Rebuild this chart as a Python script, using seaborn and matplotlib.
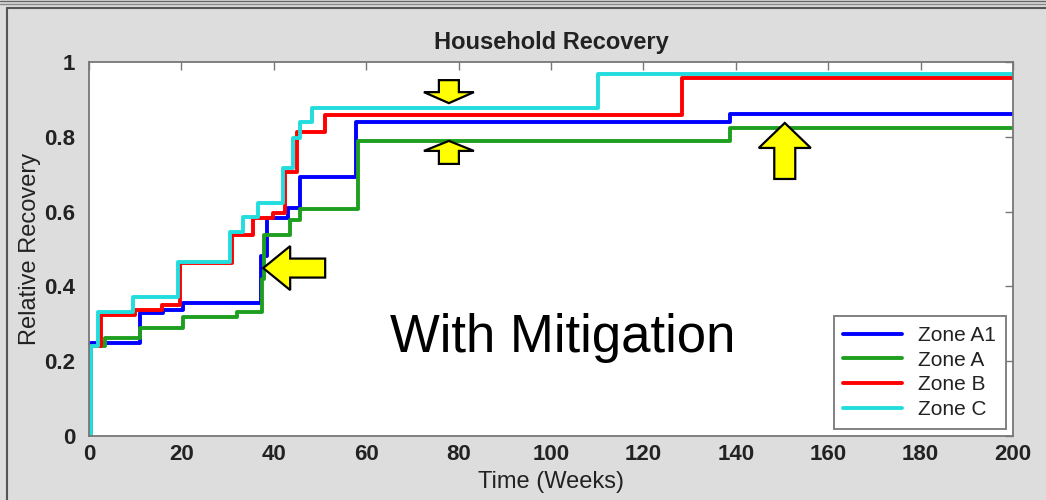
import numpy as np
import pandas as pd
import matplotlib.pyplot as plt
import matplotlib.transforms as mtransforms
from matplotlib.patches import Polygon
from matplotlib.lines import Line2D
import seaborn as sns

# step curves (value holds until the next week listed)
zones = ['Zone A1', 'Zone A', 'Zone B', 'Zone C']
colors = ['#0000ff', '#1f9f1f', '#ff0000', '#22dddd']

weeks_a1 = [0, 0.4, 11, 16, 20.4, 37.2, 38.5, 43, 45.7, 57.9, 138.7, 200]
rec_a1 = [0, 0.249, 0.328, 0.337, 0.355, 0.48, 0.583, 0.609, 0.693, 0.84, 0.86, 0.86]

weeks_a = [0, 0.4, 3.5, 11, 20.4, 32, 37.4, 37.9, 43.5, 45.7, 58.2, 138.7, 200]
rec_a = [0, 0.24, 0.262, 0.289, 0.319, 0.332, 0.42, 0.537, 0.578, 0.607, 0.79, 0.823, 0.823]

weeks_b = [0, 0.4, 2.7, 10, 15.7, 19.7, 30.9, 35.5, 39.9, 42.4, 45, 51, 128.3, 200]
rec_b = [0, 0.24, 0.323, 0.337, 0.35, 0.462, 0.537, 0.583, 0.596, 0.707, 0.814, 0.858, 0.956, 0.956]

weeks_c = [0, 0.4, 2, 9.6, 19.3, 30.5, 33.4, 36.6, 42, 44.2, 45.7, 48.2, 110.2, 200]
rec_c = [0, 0.24, 0.332, 0.372, 0.466, 0.546, 0.586, 0.622, 0.716, 0.797, 0.84, 0.877, 0.968, 0.968]

x_ticks = [0, 20, 40, 60, 80, 100, 120, 140, 160, 180, 200]
y_ticks = [0, 0.2, 0.4, 0.6, 0.8, 1.0]
y_tick_labels = ['0', '0.2', '0.4', '0.6', '0.8', '1']

frames = []
for z, w, r in zip(zones, [weeks_a1, weeks_a, weeks_b, weeks_c], [rec_a1, rec_a, rec_b, rec_c]):
    frames.append(pd.DataFrame({'zone': z, 'week': w, 'recovery': r}))
df = pd.concat(frames, ignore_index=True)

sns.set_theme(style='white')
plt.rcParams['font.family'] = ['Liberation Sans', 'DejaVu Sans']

fig = plt.figure(figsize=(10.46, 5.0), dpi=100)
fig.patch.set_facecolor('#dddddd')
ax = fig.add_axes([89 / 1046, 1 - 436 / 500, 924 / 1046, 374 / 500])
ax.set_facecolor('white')

sns.lineplot(data=df, x='week', y='recovery', hue='zone', hue_order=zones,
             palette=colors, drawstyle='steps-post', linewidth=2.8,
             estimator=None, sort=False, ax=ax)

ax.set_xlim(0, 200)
ax.set_ylim(0, 1)
ax.set_xticks(x_ticks)
ax.set_yticks(y_ticks, y_tick_labels)
ax.tick_params(direction='in', top=True, right=True, length=6, width=1,
               color='#777777', labelsize=16, labelcolor='#222222')
ax.tick_params(axis='y', pad=10)
ax.tick_params(axis='x', pad=6)
for lab in ax.get_xticklabels() + ax.get_yticklabels():
    lab.set_fontweight('bold')
for sp in ax.spines.values():
    sp.set_color('#777777')
    sp.set_linewidth(1.3)

ax.set_title('Household Recovery', fontsize=17, fontweight='bold', color='#222222', pad=9)
ax.set_xlabel('Time (Weeks)', fontsize=17, color='#222222', labelpad=4)
ax.set_ylabel('Relative Recovery', fontsize=17, color='#222222', labelpad=2)

leg = ax.legend(loc='lower right', fontsize=15, frameon=True, fancybox=False,
                edgecolor='#777777', framealpha=1, handlelength=2.8,
                borderaxespad=0.35, labelspacing=0.28, borderpad=0.45)
leg.get_frame().set_linewidth(1.3)
for t in leg.get_texts():
    t.set_color('#222222')

ax.text(102.6, 0.262, 'With Mitigation', fontsize=38, ha='center', va='center', color='black')


def block_arrow(x, y, shape):
    trans = fig.dpi_scale_trans + mtransforms.ScaledTranslation(x, y, ax.transData)
    ax.add_patch(Polygon(np.array(shape) / 100.0, closed=True, transform=trans,
                         facecolor='#ffff00', edgecolor='black', linewidth=1.6,
                         zorder=6, clip_on=False))


block_arrow(77.9, 0.890, [(0, 0), (-25, 11), (-10, 11), (-10, 23), (10, 23), (10, 11), (25, 11)])
block_arrow(77.9, 0.789, [(0, 0), (25, -10), (10, -10), (10, -23), (-10, -23), (-10, -10), (-25, -10)])
block_arrow(150.6, 0.837, [(0, 0), (26, -25), (10.5, -25), (10.5, -56), (-10.5, -56), (-10.5, -25), (-26, -25)])
block_arrow(37.7, 0.449, [(0, 0), (27, 22), (27, 9.5), (62, 9.5), (62, -9.5), (27, -9.5), (27, -22)])

# screenshot frame lines
fig.add_artist(Line2D([0, 1], [1 - 1 / 500, 1 - 1 / 500], color='#666666', lw=1))
fig.add_artist(Line2D([0, 1], [1 - 3.5 / 500, 1 - 3.5 / 500], color='#888888', lw=1))
fig.add_artist(Line2D([7 / 1046, 1], [1 - 7.5 / 500, 1 - 7.5 / 500], color='#555555', lw=1.5))
fig.add_artist(Line2D([7 / 1046, 7 / 1046], [0, 1 - 7.5 / 500], color='#555555', lw=1.5))

fig.savefig('out.png', dpi=100, facecolor=fig.get_facecolor())
